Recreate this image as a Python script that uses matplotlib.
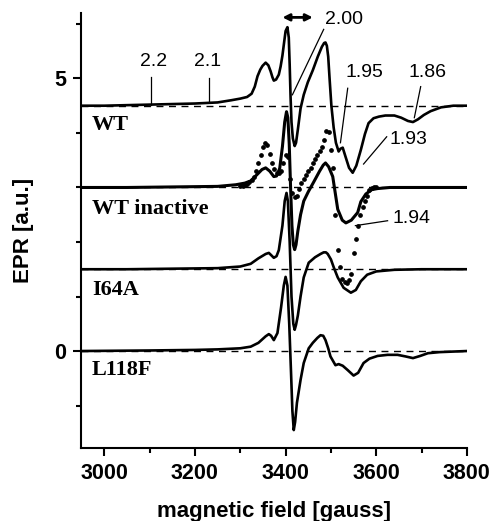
import matplotlib
matplotlib.use("Agg")
import matplotlib.pyplot as plt
from matplotlib.ticker import MultipleLocator

# ---------------- data ----------------
baselines = [4.5, 3.0, 1.5, 0.0]
labels = ["WT", "WT inactive", "I64A", "L118F"]
label_y = [4.14, 2.61, 1.12, -0.35]

wt_x = [2950, 3000, 3050, 3100, 3150, 3200, 3250, 3280, 3300, 3315, 3325, 3332, 3338, 3344, 3349,
        3356, 3362, 3367, 3371, 3374, 3379, 3385, 3389, 3393, 3397, 3400, 3404, 3407, 3409, 3411,
        3413, 3416, 3420, 3423, 3427, 3433, 3440, 3449, 3460, 3471, 3480, 3485, 3488, 3491, 3494,
        3497, 3501, 3506, 3511, 3517, 3521, 3526, 3532, 3540, 3548, 3556, 3566, 3575, 3583, 3594,
        3606, 3620, 3640, 3655, 3670, 3681, 3692, 3705, 3720, 3743, 3770, 3800]
wt_y = [4.50, 4.50, 4.51, 4.52, 4.53, 4.54, 4.56, 4.60, 4.63, 4.66, 4.72, 4.85, 5.04, 5.16, 5.23,
        5.29, 5.24, 5.13, 5.02, 4.96, 4.98, 5.07, 5.22, 5.42, 5.68, 5.87, 5.94, 5.75, 5.25, 4.65,
        4.20, 3.90, 3.76, 3.82, 4.06, 4.45, 4.70, 4.93, 5.15, 5.40, 5.58, 5.65, 5.66, 5.60, 5.40,
        5.00, 4.50, 4.10, 3.82, 3.66, 3.71, 3.73, 3.57, 3.36, 3.27, 3.40, 3.69, 3.98, 4.18, 4.27,
        4.30, 4.32, 4.32, 4.28, 4.22, 4.20, 4.25, 4.33, 4.40, 4.47, 4.50, 4.50]

wti_x = [2950, 3050, 3150, 3250, 3290, 3310, 3323, 3335, 3348, 3356, 3365, 3374, 3380, 3387, 3393,
         3398, 3402, 3405, 3408, 3411, 3414, 3417, 3420, 3423, 3427, 3433, 3440, 3450, 3462, 3475,
         3483, 3488, 3495, 3504, 3515, 3525, 3533, 3545, 3559, 3566, 3577, 3590, 3603, 3630, 3700, 3800]
wti_y = [3.00, 3.00, 3.01, 3.02, 3.05, 3.08, 3.12, 3.22, 3.33, 3.36, 3.30, 3.20, 3.21, 3.35, 3.75,
         4.20, 4.39, 4.28, 3.80, 3.00, 2.30, 1.95, 1.86, 1.95, 2.20, 2.50, 2.75, 2.92, 3.10, 3.30,
         3.41, 3.45, 3.38, 3.20, 2.60, 2.40, 2.35, 2.40, 2.54, 2.74, 2.88, 2.96, 2.98, 3.00, 3.00, 3.00]

dot_x = [3300, 3305, 3310, 3315, 3320, 3325, 3330, 3335, 3340, 3345, 3350, 3355, 3360, 3365, 3370,
         3375, 3380, 3385, 3390, 3395, 3400, 3405, 3410, 3415, 3420, 3425, 3430, 3435, 3440, 3445,
         3450, 3455, 3460, 3465, 3470, 3475, 3480, 3485, 3490, 3495, 3500, 3505, 3510, 3515, 3520,
         3525, 3530, 3535, 3540, 3545, 3550, 3555, 3560, 3565, 3570, 3575, 3580, 3585, 3590, 3595, 3600]
dot_y = [3.02, 3.03, 3.05, 3.07, 3.10, 3.14, 3.20, 3.30, 3.45, 3.60, 3.75, 3.82, 3.78, 3.62, 3.45,
         3.33, 3.27, 3.26, 3.30, 3.45, 3.60, 3.55, 3.15, 2.90, 2.82, 2.85, 2.98, 3.09, 3.16, 3.23,
         3.30, 3.36, 3.45, 3.53, 3.60, 3.67, 3.75, 3.88, 4.03, 4.02, 3.68, 3.35, 2.50, 1.85, 1.55,
         1.33, 1.26, 1.25, 1.30, 1.42, 1.80, 2.05, 2.30, 2.50, 2.65, 2.75, 2.85, 2.95, 2.99, 3.00, 3.00]

i64_x = [2950, 3050, 3150, 3250, 3300, 3323, 3340, 3356, 3363, 3368, 3374, 3380, 3385, 3393, 3398,
         3402, 3405, 3409, 3413, 3417, 3420, 3423, 3427, 3433, 3440, 3451, 3465, 3477, 3484, 3489,
         3493, 3500, 3506, 3515, 3528, 3544, 3555, 3566, 3580, 3600, 3640, 3700, 3800]
i64_y = [1.50, 1.50, 1.51, 1.52, 1.55, 1.60, 1.70, 1.78, 1.80, 1.76, 1.71, 1.74, 1.85, 2.30, 2.75,
         2.90, 2.75, 2.00, 1.00, 0.50, 0.39, 0.48, 0.65, 1.00, 1.35, 1.62, 1.72, 1.78, 1.81, 1.81,
         1.78, 1.68, 1.54, 1.35, 1.16, 1.07, 1.12, 1.28, 1.40, 1.46, 1.49, 1.50, 1.50]

l118_x = [2950, 3100, 3200, 3250, 3300, 3323, 3340, 3356, 3363, 3368, 3374, 3382, 3390, 3396, 3400,
          3404, 3408, 3412, 3415, 3418, 3421, 3425, 3433, 3440, 3451, 3460, 3470, 3477, 3483, 3488,
          3494, 3499, 3510, 3517, 3526, 3537, 3550, 3560, 3572, 3585, 3603, 3625, 3647, 3665, 3681,
          3697, 3714, 3740, 3800]
l118_y = [0.00, 0.01, 0.02, 0.03, 0.05, 0.08, 0.15, 0.27, 0.31, 0.28, 0.20, 0.33, 0.80, 1.20, 1.36,
          1.20, 0.50, -0.40, -1.10, -1.45, -1.30, -0.95, -0.53, -0.22, 0.05, 0.15, 0.24, 0.29, 0.28, 0.20,
          0.05, -0.10, -0.26, -0.24, -0.27, -0.35, -0.45, -0.40, -0.22, -0.14, -0.09, -0.07, -0.07, -0.10, -0.13,
          -0.09, -0.04, -0.02, 0.00]

# g-value annotations: text, text position, line start, line end
g_labels = ["2.2", "2.1", "2.00", "1.95", "1.86", "1.93", "1.94"]
g_text_xy = [(3108, 5.31), (3228, 5.31), (3528, 6.08), (3574, 5.11), (3714, 5.11), (3672, 3.88), (3677, 2.44)]
g_line_from = [(3102, 5.02), (3230, 5.00), (3484, 5.90), (3537, 4.82), (3698, 4.85), (3623, 3.93), (3625, 2.39)]
g_line_to = [(3102, 4.52), (3230, 4.56), (3415, 4.70), (3521, 3.82), (3684, 4.28), (3572, 3.43), (3554, 2.30)]

arrow_x = (3393, 3460)
arrow_y = 6.12

# ---------------- figure ----------------
fig = plt.figure(figsize=(4.92, 5.21), dpi=100)
ax = fig.add_axes([0.165, 0.14, 0.784, 0.835])

xmin, xmax = 2949, 3800
for b in baselines:
    ax.plot([xmin, xmax], [b, b], color="black", lw=1.0, ls=(0, (5, 4)), zorder=1)

lw = 1.9
ax.plot(wt_x, wt_y, color="black", lw=lw, zorder=3)
ax.plot(wti_x, wti_y, color="black", lw=lw + 0.3, zorder=3)
ax.plot(dot_x, dot_y, ls="none", marker="o", ms=2.4, color="black", zorder=4)
ax.plot(i64_x, i64_y, color="black", lw=lw, zorder=3)
ax.plot(l118_x, l118_y, color="black", lw=lw, zorder=3)

for lab, ly in zip(labels, label_y):
    ax.text(2973, ly, lab, family="Liberation Serif", fontweight="bold", fontsize=16,
            ha="left", va="center")

for t, txy, p0, p1 in zip(g_labels, g_text_xy, g_line_from, g_line_to):
    ax.text(txy[0], txy[1], t, family="Liberation Sans", fontsize=14, ha="center", va="center")
    ax.plot([p0[0], p1[0]], [p0[1], p1[1]], color="black", lw=0.9, zorder=5)

ax.annotate("", xy=(arrow_x[0], arrow_y), xytext=(arrow_x[1], arrow_y),
            arrowprops=dict(arrowstyle="<|-|>", color="black", lw=2.0, mutation_scale=10,
                            shrinkA=0, shrinkB=0))

ax.set_xlim(xmin, xmax)
ax.set_ylim(-1.78, 6.2)
ax.spines["top"].set_visible(False)
ax.spines["right"].set_visible(False)
ax.spines["left"].set_linewidth(1.5)
ax.spines["bottom"].set_linewidth(1.5)

ax.xaxis.set_major_locator(MultipleLocator(200))
ax.xaxis.set_minor_locator(MultipleLocator(100))
ax.yaxis.set_major_locator(MultipleLocator(5))
ax.yaxis.set_minor_locator(MultipleLocator(1))
ax.tick_params(which="major", direction="out", length=6, width=1.5, pad=5)
ax.tick_params(which="minor", direction="out", length=3.5, width=1.5)

for lbl in ax.get_xticklabels() + ax.get_yticklabels():
    lbl.set_fontfamily("Liberation Sans")
    lbl.set_fontweight("bold")
    lbl.set_fontsize(15.5)

ax.set_xlabel("magnetic field [gauss]", family="Liberation Sans", fontweight="bold",
              fontsize=16, labelpad=12)
ax.set_ylabel("EPR [a.u.]", family="Liberation Sans", fontweight="bold",
              fontsize=16, labelpad=14)

fig.savefig("out.png", dpi=100)
